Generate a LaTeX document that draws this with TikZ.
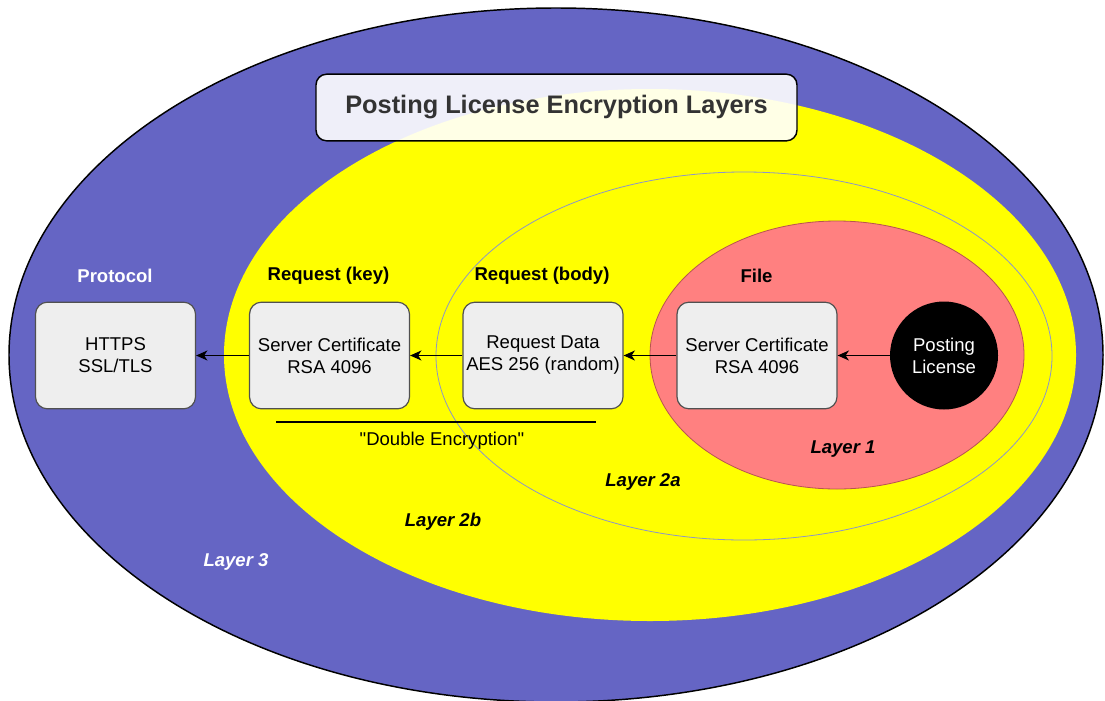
\documentclass[tikz,border=0pt]{standalone}
\usepackage{fontspec}
\setmainfont{Liberation Sans}[Ligatures=TeXOff]
\usetikzlibrary{arrows.meta,shapes.geometric}

\definecolor{outerblue}{RGB}{101,101,196}
\definecolor{layeryellow}{RGB}{255,255,0}
\definecolor{innerred}{RGB}{255,128,128}
\definecolor{rededge}{RGB}{184,84,80}
\definecolor{thinedge}{RGB}{140,150,200}
\definecolor{boxgray}{RGB}{238,238,238}
\definecolor{boxedge}{RGB}{80,80,80}
\definecolor{titlegray}{RGB}{51,51,51}

\newcommand{\txtsize}{\fontsize{13.9}{16.5}\selectfont}

\tikzset{
  cryptbox/.style={draw=boxedge, line width=0.9pt, fill=boxgray, rounded corners=9pt,
    minimum width=120pt, minimum height=80pt, align=center, inner sep=0pt,
    font=\txtsize},
  headlabel/.style={font=\txtsize\bfseries, inner sep=0pt},
  layerlabel/.style={font=\txtsize\bfseries\itshape, inner sep=0pt},
  flow/.style={-{Stealth[length=8.5pt,width=7.5pt,inset=2.5pt]}, line width=1.1pt},
}

\begin{document}
\begin{tikzpicture}[x=0.75pt,y=-0.75pt]
\useasboundingbox (0,0) rectangle (1105,700);
\clip (0,0) rectangle (1105,700);

% nested encryption layers
\fill[outerblue, draw=black, line width=1.1pt] (556,355) ellipse [x radius=547, y radius=347];
\fill[layeryellow] (650,355) ellipse [x radius=426, y radius=266];
\draw[thinedge, line width=0.6pt, fill=layeryellow] (744,356) ellipse [x radius=308, y radius=184];
\draw[rededge, line width=0.6pt, fill=innerred] (837,355) ellipse [x radius=187, y radius=134];

% title
\node[draw=black, line width=1.1pt, fill=white, fill opacity=0.9, text opacity=1,
      rounded corners=8pt, minimum width=360.75pt, minimum height=50pt,
      font=\fontsize{19}{22}\selectfont\bfseries, text=titlegray] (title)
      at (556.5,107.5) {Posting License Encryption Layers};

% boxes
\node[cryptbox] (https) at (115.5,355.5) {HTTPS\\SSL/TLS};
\node[cryptbox] (reqkey) at (329.5,355.5) {Server Certificate\\RSA 4096};
\node[cryptbox] (reqbody) at (543,355.5) {Request Data\\AES 256 (random)};
\node[cryptbox] (filecert) at (757,355.5) {Server Certificate\\RSA 4096};
\node[circle, fill=black, minimum size=81pt, inner sep=0pt, align=center,
      text=white, font=\txtsize] (license) at (944,355.5) {Posting\\License};

% flow of the license through the layers
\draw[flow] (license.west) -- (filecert.east);
\draw[flow] (filecert.west) -- (reqbody.east);
\draw[flow] (reqbody.west) -- (reqkey.east);
\draw[flow] (reqkey.west) -- (https.east);

% column headings
\node[headlabel, text=white] (hproto) at (115,275.5) {Protocol};
\node[headlabel] (hkey) at (328.5,275.5) {Request (key)};
\node[headlabel] (hbody) at (542,275.5) {Request (body)};
\node[headlabel] (hfile) at (756.5,275.5) {File};

% double encryption bracket
\coordinate (dblL) at (276,422);
\coordinate (dblR) at (596,422);
\draw[line width=1pt] (dblL) -- (dblR);
\node[font=\txtsize, inner sep=0pt] (dbltext) at (442,441) {"Double Encryption"};

% layer names
\node[layerlabel] (l1) at (843,449) {Layer 1};
\node[layerlabel] (l2a) at (643,482) {Layer 2a};
\node[layerlabel] (l2b) at (443,522) {Layer 2b};
\node[layerlabel, text=white] (l3) at (236,562) {Layer 3};
\end{tikzpicture}
\end{document}
